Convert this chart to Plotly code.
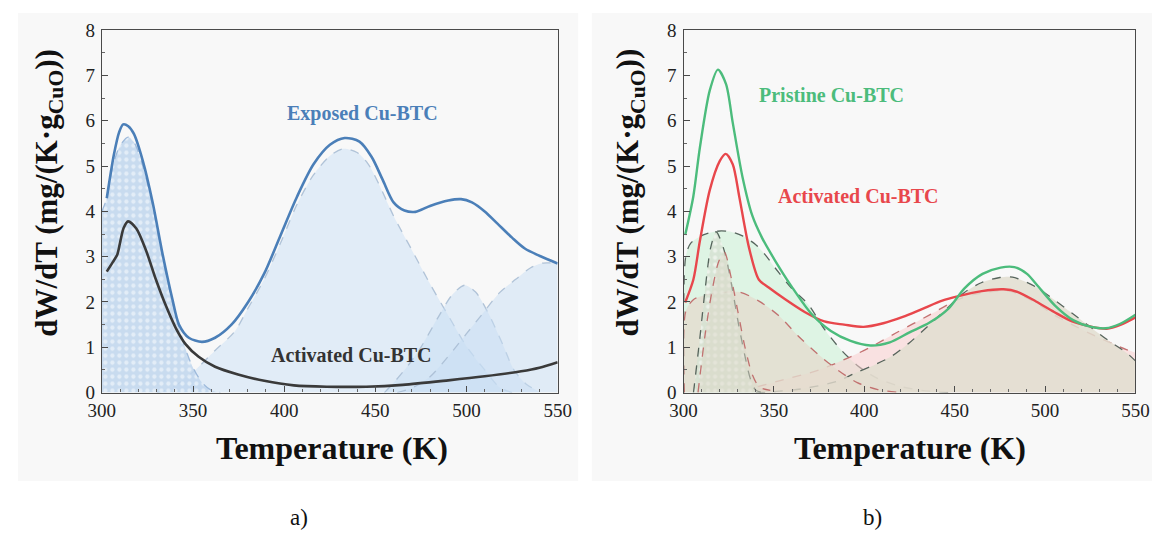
import plotly.graph_objects as go

# ---------------- Panel a data ----------------
Ta_exposed = [302.7, 306.6, 309.5, 311.7, 314.5, 317.6, 322.5, 327.9, 333.3, 338.7, 342.3, 347.7, 354.9,
              362.1, 371.1, 380.1, 389.1, 398.1, 407.1, 416.1, 425.1, 433.2, 441.3, 448, 454, 460,
              466, 472, 480, 490, 497, 503, 510, 517, 525, 532, 540, 550]
Ya_exposed = [4.29, 5.25, 5.75, 5.92, 5.88, 5.71, 5.11, 4.19, 3.06, 2.06, 1.5, 1.21, 1.12,
              1.21, 1.5, 1.99, 2.63, 3.48, 4.33, 5.04, 5.47, 5.62, 5.54, 5.2, 4.7, 4.2,
              4.02, 3.99, 4.12, 4.24, 4.27, 4.2, 4.0, 3.73, 3.42, 3.18, 3.02, 2.85]

Ta_activated = [302.7, 306, 308.5, 310.2, 312, 314.4, 318.9, 324.3, 329.7, 335.1, 340.5, 345.9, 353.1, 362.1,
                374.7, 389.1, 405.3, 423.3, 445, 465, 490, 510, 530, 540, 550]
Ya_activated = [2.67, 2.88, 3.05, 3.35, 3.64, 3.78, 3.62, 3.13, 2.49, 1.92, 1.43, 1.07, 0.79, 0.57,
                0.4, 0.26, 0.16, 0.13, 0.13, 0.17, 0.27, 0.36, 0.47, 0.55, 0.67]

# fitted components (panel a)
Ta_c1 = [300, 302.7, 306, 310, 314.4, 318, 322.5, 327.9, 333.3, 338.7, 342.3, 346, 350, 355, 360, 365]
Ya_c1 = [4.0, 4.29, 5.0, 5.45, 5.64, 5.5, 5.0, 4.12, 2.98, 2.0, 1.45, 0.95, 0.55, 0.22, 0.05, 0.0]

Ta_c2 = [330, 335, 342, 351.3, 362.1, 372.9, 380, 389, 398, 407, 416, 425, 432, 440, 446, 452, 460,
         470, 480, 490, 500, 510, 518, 525]
Ya_c2 = [0.0, 0.05, 0.2, 0.5, 0.93, 1.35, 1.85, 2.5, 3.3, 4.15, 4.8, 5.22, 5.38, 5.3, 5.05, 4.6, 3.9,
         3.15, 2.4, 1.7, 1.02, 0.5, 0.12, 0.0]

Ta_c3 = [455, 461, 468, 475, 485, 492, 499, 505, 512, 520, 526, 533, 540]
Ya_c3 = [0.0, 0.26, 0.6, 1.0, 1.7, 2.15, 2.37, 2.22, 1.75, 1.05, 0.5, 0.18, 0.02]

Ta_c4 = [462, 470, 480, 490, 500, 509, 518, 527, 535, 542, 550]
Ya_c4 = [0.0, 0.1, 0.35, 0.8, 1.3, 1.75, 2.2, 2.5, 2.75, 2.86, 2.85]

# ---------------- Panel b data ----------------
Tb_pristine = [300.9, 305.4, 309, 314.5, 319, 323.5, 327.2, 332.6, 338, 343.5, 350.7, 359.8, 370.7,
               381.5, 392.4, 403.3, 414.1, 425, 435.9, 446.7, 455.4, 465.4, 475.4, 483, 490, 495.4,
               505.5, 515.5, 525.6, 533.6, 541.6, 550]
Yb_pristine = [3.48, 4.33, 5.4, 6.67, 7.13, 6.81, 5.96, 4.76, 3.91, 3.41, 2.91, 2.34, 1.74,
               1.36, 1.14, 1.04, 1.11, 1.33, 1.54, 1.86, 2.3, 2.62, 2.76, 2.77, 2.62, 2.38,
               1.92, 1.6, 1.45, 1.42, 1.52, 1.72]

Tb_activated = [300.9, 305.4, 309, 314.5, 320, 323.3, 327.2, 330.8, 336.2, 341.7, 347.1, 356.2, 367,
                377.9, 388.8, 399.6, 410.5, 421.3, 432.2, 443.1, 452.1, 465, 477, 485, 495, 505,
                515, 525, 534, 542, 550]
Yb_activated = [1.99, 2.49, 3.34, 4.47, 5.11, 5.27, 5.04, 4.33, 3.2, 2.49, 2.32, 2.06, 1.78,
                1.57, 1.5, 1.45, 1.53, 1.67, 1.85, 2.03, 2.13, 2.24, 2.28, 2.22, 2.01, 1.78,
                1.57, 1.46, 1.41, 1.5, 1.66]

# fitted components (panel b)
Tb_pb1 = [300.4, 301.2, 304, 310.9, 317, 321, 327, 332.6, 339.8, 345, 350.7, 359.8, 368.9, 377.9, 387,
          396.1, 407, 421.5, 436, 450]
Yb_pb1 = [0.0, 3.0, 3.3, 3.48, 3.55, 3.57, 3.54, 3.46, 3.27, 3.05, 2.75, 2.3, 1.95, 1.4, 0.95,
          0.6, 0.32, 0.12, 0.03, 0.0]

Tb_pn1 = [305.5, 309, 312, 315, 318, 322, 326, 330, 334, 337, 340, 344]
Yb_pn1 = [0.0, 1.2, 2.3, 3.2, 3.55, 3.2, 2.5, 1.6, 0.8, 0.3, 0.05, 0.0]

Tb_pn2 = [308, 312, 316, 319.5, 322.6, 326, 330, 334, 338, 342, 348]
Yb_pn2 = [0.0, 1.3, 2.3, 2.9, 3.1, 2.6, 1.8, 1.0, 0.4, 0.12, 0.05]

Tb_ab1 = [300.4, 301.2, 305.4, 312.7, 320, 330.8, 341.7, 352.6, 363.4, 374.3, 385.2, 396.1, 407, 420]
Yb_ab1 = [0.0, 1.79, 2.05, 2.16, 2.2, 2.22, 2.02, 1.7, 1.25, 0.85, 0.5, 0.22, 0.07, 0.0]

Tb_p480 = [340, 350, 365, 385, 396, 405, 415, 425, 435, 445, 455, 465, 475, 482, 495, 505, 515,
           525, 535, 545, 550]
Yb_p480 = [0.0, 0.02, 0.08, 0.25, 0.45, 0.6, 0.8, 1.1, 1.46, 1.83, 2.2, 2.43, 2.54, 2.55, 2.33, 2.05, 1.75,
           1.45, 1.15, 0.88, 0.7]

Tb_a475 = [341, 355, 375, 392.4, 403.3, 417.7, 435.9, 450.4, 460, 477.5, 485, 495, 504.7, 515, 525,
           535, 545, 550]
Yb_a475 = [0.13, 0.28, 0.5, 0.79, 1.0, 1.32, 1.71, 2.03, 2.16, 2.25, 2.18, 1.98, 1.72, 1.5, 1.3,
           1.12, 0.95, 0.88]

X_TICKS = [300, 350, 400, 450, 500, 550]
Y_TICKS = [0, 1, 2, 3, 4, 5, 6, 7, 8]

SERIF = "Liberation Serif, Times New Roman, serif"

fig = go.Figure()


def comp(x, y, xa, ya, line_color, fill_color, pattern=None, width=1.3, dash="dash"):
    kw = {}
    if pattern is not None:
        kw["fillpattern"] = pattern
    fig.add_trace(go.Scatter(
        x=x, y=y, xaxis=xa, yaxis=ya, mode="lines",
        line=dict(color=line_color, width=width, dash=dash, shape="spline", smoothing=0.8),
        fill="tozeroy", fillcolor=fill_color, hoverinfo="skip", showlegend=False, **kw))


# ---- panel a components ----
dash_a = "rgba(170,190,212,0.9)"
comp(Ta_c2, Ya_c2, "x", "y", dash_a, "rgba(205,225,245,0.55)")
comp(Ta_c3, Ya_c3, "x", "y", dash_a, "rgba(200,222,244,0.5)")
comp(Ta_c4, Ya_c4, "x", "y", dash_a, "rgba(200,222,244,0.5)")
comp(Ta_c1, Ya_c1, "x", "y", "rgba(150,180,215,0.9)", "rgba(190,214,240,0.8)",
     pattern=dict(shape=".", fgcolor="rgba(255,255,255,0.5)", bgcolor="rgba(192,214,238,0.85)",
                  size=7, solidity=0.3, fillmode="replace"))

fig.add_trace(go.Scatter(x=Ta_activated, y=Ya_activated, xaxis="x", yaxis="y", mode="lines",
                         line=dict(color="#3a3a3a", width=2.6, shape="spline", smoothing=0.8),
                         showlegend=False))
fig.add_trace(go.Scatter(x=Ta_exposed, y=Ya_exposed, xaxis="x", yaxis="y", mode="lines",
                         line=dict(color="#4b7fb8", width=2.6, shape="spline", smoothing=0.8),
                         showlegend=False))

# ---- panel b components ----
dk = "rgba(70,85,78,0.9)"
rd = "rgba(190,100,100,0.9)"
comp(Tb_pb1, Yb_pb1, "x2", "y2", dk, "rgba(205,242,215,0.6)")
comp(Tb_a475, Yb_a475, "x2", "y2", rd, "rgba(250,205,205,0.55)")
comp(Tb_p480, Yb_p480, "x2", "y2", dk, "rgba(226,222,208,0.85)")
comp(Tb_ab1, Yb_ab1, "x2", "y2", rd, "rgba(228,220,206,0.8)")
comp(Tb_pn1, Yb_pn1, "x2", "y2", dk, "rgba(215,228,212,0.8)",
     pattern=dict(shape=".", fgcolor="rgba(255,255,255,0.5)", bgcolor="rgba(214,226,210,0.85)",
                  size=7, solidity=0.3, fillmode="replace"))
comp(Tb_pn2, Yb_pn2, "x2", "y2", rd, "rgba(220,215,200,0.5)")

fig.add_trace(go.Scatter(x=Tb_activated, y=Yb_activated, xaxis="x2", yaxis="y2", mode="lines",
                         line=dict(color="#e8474c", width=2.4, shape="spline", smoothing=0.8),
                         showlegend=False))
fig.add_trace(go.Scatter(x=Tb_pristine, y=Yb_pristine, xaxis="x2", yaxis="y2", mode="lines",
                         line=dict(color="#4cbc7c", width=2.4, shape="spline", smoothing=0.8),
                         showlegend=False))

W, H = 1168, 542
ydom = [1 - 398 / H, 1 - 21 / H]
xdom_a = [90 / W, 557 / W]
xdom_b = [686 / W, 1149 / W]

axis_common = dict(
    showgrid=False, zeroline=False, showline=True, linecolor="#4a4a4a", linewidth=1.3, mirror=True,
    ticks="inside", ticklen=6, tickwidth=1.2, tickcolor="#4a4a4a",
    tickfont=dict(family=SERIF, size=19, color="#222222"),
)
xcommon = dict(axis_common, range=[300, 550], tickvals=X_TICKS,
               minor=dict(dtick=10, ticks="inside", ticklen=3, tickcolor="#666666"))
ycommon = dict(axis_common, range=[0, 8], tickvals=Y_TICKS, ticklabelstandoff=2,
               minor=dict(dtick=0.5, ticks="inside", ticklen=3, tickcolor="#666666"))

fig.update_layout(
    width=W, height=H, margin=dict(l=0, r=0, t=0, b=0),
    paper_bgcolor="white", plot_bgcolor="#fcfdfe",
    xaxis=dict(xcommon, domain=xdom_a, anchor="y"),
    yaxis=dict(ycommon, domain=ydom, anchor="x"),
    xaxis2=dict(xcommon, domain=xdom_b, anchor="y2"),
    yaxis2=dict(ycommon, domain=ydom, anchor="x2"),
    showlegend=False,
    shapes=[
        dict(type="rect", xref="paper", yref="paper", x0=4 / W, x1=578 / W, y0=1 - 490 / H, y1=1 - 3 / H,
             fillcolor="#f8f8f8", line=dict(width=0), layer="below"),
        dict(type="rect", xref="paper", yref="paper", x0=592 / W, x1=1166 / W, y0=1 - 490 / H, y1=1 - 3 / H,
             fillcolor="#f8f8f8", line=dict(width=0), layer="below"),
    ],
)

ytitle = "<b>dW/dT (mg/(K·g<sub>CuO</sub>))</b>"
ann = [
    dict(text=ytitle, x=35 / W, y=1 - 190 / H, textangle=-90, size=31),
    dict(text=ytitle, x=631 / W, y=1 - 190 / H, textangle=-90, size=31),
    dict(text="<b>Temperature (K)</b>", x=326 / W, y=1 - 456 / H, size=32),
    dict(text="<b>Temperature (K)</b>", x=918 / W, y=1 - 456 / H, size=32),
    dict(text="a)", x=292 / W, y=1 - 528 / H, size=23),
    dict(text="b)", x=880 / W, y=1 - 528 / H, size=23),
]
annotations = []
for a in ann:
    annotations.append(dict(
        text=a["text"], x=a["x"], y=a["y"], xref="paper", yref="paper", showarrow=False,
        textangle=a.get("textangle", 0), xanchor="center", yanchor="middle",
        font=dict(family=SERIF, size=a.get("size", 27), color="#111111")))

# series labels
annotations += [
    dict(text="<b>Exposed Cu-BTC</b>", x=443, y=6.16, xref="x", yref="y", showarrow=False,
         font=dict(family=SERIF, size=20, color="#4b7fb8")),
    dict(text="<b>Activated Cu-BTC</b>", x=437, y=0.82, xref="x", yref="y", showarrow=False,
         font=dict(family=SERIF, size=20, color="#333333")),
    dict(text="<b>Pristine Cu-BTC</b>", x=382, y=6.58, xref="x2", yref="y2", showarrow=False,
         font=dict(family=SERIF, size=20, color="#4cbc7c")),
    dict(text="<b>Activated Cu-BTC</b>", x=397, y=4.33, xref="x2", yref="y2", showarrow=False,
         font=dict(family=SERIF, size=20, color="#e8474c")),
]
fig.update_layout(annotations=annotations)

fig.write_html("out.html")
